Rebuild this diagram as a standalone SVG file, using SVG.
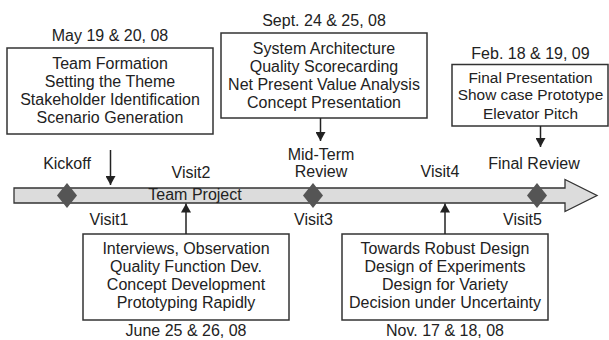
<svg xmlns="http://www.w3.org/2000/svg" width="609" height="340" viewBox="0 0 609 340">
<style>
text{font-family:"Liberation Sans",Arial,sans-serif;font-size:16px;fill:#222;text-anchor:middle}
.sm{font-size:15.4px}
.box{fill:#fff;stroke:#333;stroke-width:1.5}
.dia{fill:#555}
.conn{stroke:#222;stroke-width:1.5;fill:none}
</style>
<defs>
<marker id="ah" markerUnits="userSpaceOnUse" markerWidth="10" markerHeight="10" refX="9" refY="5" orient="auto">
<path d="M0,0 L9,5 L0,10 Z" fill="#222"/>
</marker>
</defs>
<g id="timeline">
<path d="M14,188 H565 V179.5 L597,195.5 L565,211.5 V203 H14 Z" fill="#dcdcdc" stroke="#333" stroke-width="1.3"/>
<text x="195" y="199.5">Team Project</text>
</g>
<g id="milestones">
<path class="dia" d="M67,183 L77,195.5 L67,208 L57,195.5 Z"/>
<path class="dia" d="M313,183 L323,195.5 L313,208 L303,195.5 Z"/>
<path class="dia" d="M537,183 L547,195.5 L537,208 L527,195.5 Z"/>
</g>
<g id="labels">
<text x="67" y="169">Kickoff</text>
<text x="191" y="177.5">Visit2</text>
<text x="321" y="159.5">Mid-Term</text>
<text x="321" y="177">Review</text>
<text x="440" y="177">Visit4</text>
<text x="534" y="168.5">Final Review</text>
<text x="109" y="225">Visit1</text>
<text x="313.5" y="225">Visit3</text>
<text x="522.5" y="225">Visit5</text>
</g>
<g id="may">
<text x="110" y="41">May 19 &amp; 20, 08</text>
<rect class="box" x="7" y="48" width="206" height="86"/>
<text x="110" y="68.5">Team Formation</text>
<text x="110" y="86.8">Setting the Theme</text>
<text x="110" y="105">Stakeholder Identification</text>
<text x="110" y="123">Scenario Generation</text>
</g>
<g id="sept">
<text x="324" y="26">Sept. 24 &amp; 25, 08</text>
<rect class="box" x="221" y="33" width="206" height="85"/>
<text x="324" y="53.5">System Architecture</text>
<text x="324" y="71.8">Quality Scorecarding</text>
<text x="324" y="89.5">Net Present Value Analysis</text>
<text x="324" y="107.8">Concept Presentation</text>
</g>
<g id="feb">
<text x="530.5" y="58.5">Feb. 18 &amp; 19, 09</text>
<rect class="box" x="452" y="64.5" width="156" height="61.5"/>
<text class="sm" x="530.5" y="82.8">Final Presentation</text>
<text class="sm" x="530.5" y="100.3">Show case Prototype</text>
<text class="sm" x="530.5" y="118.5">Elevator Pitch</text>
</g>
<g id="june">
<rect class="box" x="83" y="234" width="206" height="86"/>
<text x="186" y="254">Interviews, Observation</text>
<text x="186" y="271.8">Quality Function Dev.</text>
<text x="186" y="290">Concept Development</text>
<text x="186" y="307.8">Prototyping Rapidly</text>
<text x="186" y="335.8">June 25 &amp; 26, 08</text>
</g>
<g id="nov">
<rect class="box" x="342" y="234" width="206" height="86"/>
<text x="445" y="254">Towards Robust Design</text>
<text x="445" y="271.8">Design of Experiments</text>
<text x="445" y="290">Design for Variety</text>
<text x="445" y="307.8">Decision under Uncertainty</text>
<text x="445" y="335.8">Nov. 17 &amp; 18, 08</text>
</g>
<g id="connectors">
<line class="conn" x1="110.5" y1="150" x2="110.5" y2="185" marker-end="url(#ah)"/>
<line class="conn" x1="320.5" y1="118" x2="320.5" y2="141" marker-end="url(#ah)"/>
<line class="conn" x1="540.5" y1="126" x2="540.5" y2="147" marker-end="url(#ah)"/>
<line class="conn" x1="186" y1="234" x2="186" y2="203.5" marker-end="url(#ah)"/>
<line class="conn" x1="445" y1="234" x2="445" y2="203.5" marker-end="url(#ah)"/>
</g>
</svg>
